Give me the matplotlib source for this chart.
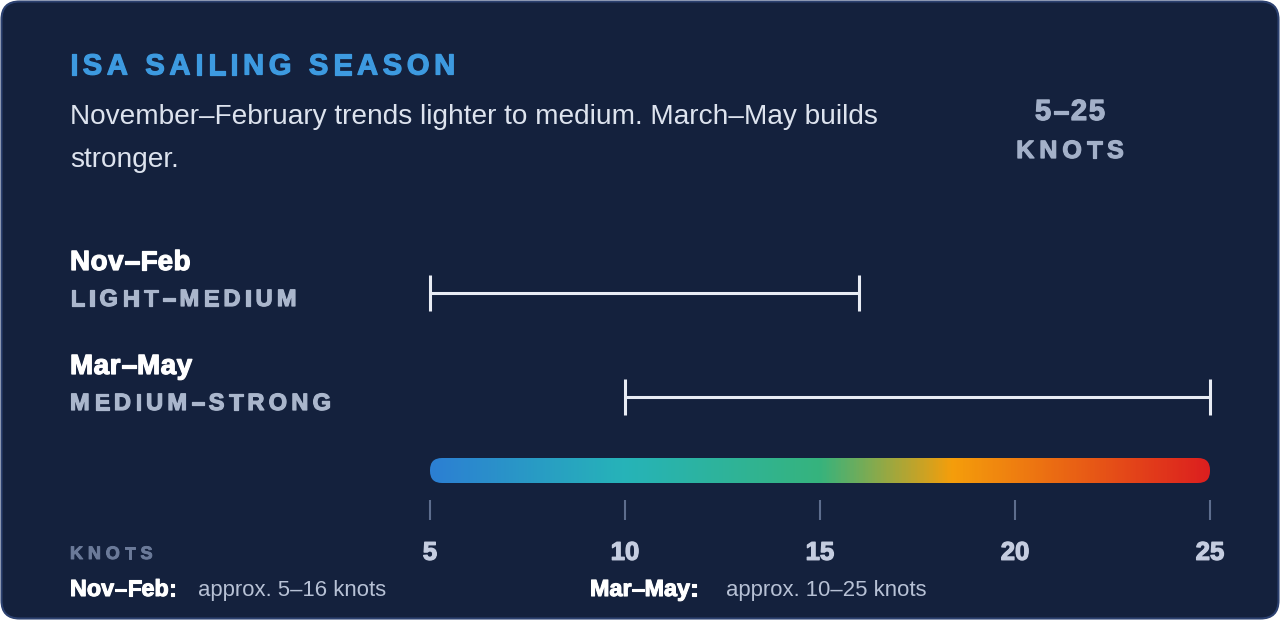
import numpy as np
import matplotlib
matplotlib.use("Agg")
import matplotlib.pyplot as plt
import matplotlib.patheffects as pe
from matplotlib.patches import FancyBboxPatch
from matplotlib.colors import LinearSegmentedColormap
from matplotlib.font_manager import FontProperties, findfont, get_font

try:
    from matplotlib.ft2font import LoadFlags
    NOHINT = LoadFlags.NO_HINTING
except ImportError:
    from matplotlib.ft2font import LOAD_NO_HINTING as NOHINT

# data
seasons = ["Nov–Feb", "Mar–May"]
levels = ["LIGHT–MEDIUM", "MEDIUM–STRONG"]
low = [5, 10]
high = [16, 25]
ticks = [5, 10, 15, 20, 25]
grad_pos = [0.0, 0.25, 0.5, 0.67, 1.0]
grad_col = ["#2c7fd3", "#26b4b8", "#36b37d", "#f59e0b", "#dc1f1f"]

W, H, DPI = 1280, 620, 100
BG = "#14213d"
FONT = "Liberation Sans"

plt.rcParams["font.family"] = [FONT, "DejaVu Sans"]

fig = plt.figure(figsize=(W / DPI, H / DPI), dpi=DPI, facecolor="white")

# card background
bg = fig.add_axes([0, 0, 1, 1])
bg.set_xlim(0, W)
bg.set_ylim(H, 0)
bg.axis("off")
bg.add_patch(FancyBboxPatch((1.5, 1.5), W - 3, H - 3,
                            boxstyle="round,pad=0,rounding_size=18",
                            facecolor=BG, edgecolor="#2c4170", linewidth=1.5))


def fxy(x, y):
    return x / W, 1 - y / H


def heavy(color, lw=0.9):
    # the reference bold is a bit heavier than Liberation Sans Bold
    return [pe.withStroke(linewidth=lw, foreground=color)]


def advances(s, size, weight):
    fp = FontProperties(family=FONT, weight=weight, size=size)
    font = get_font(findfont(fp))
    font.set_size(size, DPI)
    return [font.load_char(ord(c), flags=NOHINT).linearHoriAdvance / 65536 for c in s]


def spaced(x, y, s, size, color, weight="bold", track=0.0, ha="left", lw=0.9):
    adv = advances(s, size, weight)
    gap = track * size * DPI / 72
    total = sum(adv) + gap * (len(s) - 1)
    if ha == "center":
        x = x - total / 2
    elif ha == "right":
        x = x - total
    for c, a in zip(s, adv):
        fig.text(*fxy(x, y), c, fontsize=size, color=color, fontweight=weight,
                 ha="left", va="baseline", path_effects=heavy(color, lw))
        x += a + gap


# header
spaced(70, 74.5, "ISA SAILING SEASON", 21, "#3d9ae0", track=0.16)
fig.text(*fxy(70, 124.5), "November–February trends lighter to medium. March–May builds",
         fontsize=20.2, color="#dde3ee", va="baseline")
fig.text(*fxy(70, 167), "stronger.", fontsize=20.2, color="#dde3ee", va="baseline")
spaced(1070, 120, f"{ticks[0]}–{ticks[-1]}", 21, "#a3b0c8", track=0.06, ha="center")
spaced(1070, 158, "KNOTS", 18, "#a3b0c8", track=0.2, ha="center")

# row labels
row_y = [270, 374]
for i in range(len(seasons)):
    spaced(70, row_y[i], seasons[i], 20, "white", track=0.02)
    spaced(70, row_y[i] + 36, levels[i], 17, "#aab6cc", track=0.18)

# range axes: x in knots, y in row index (104 px per row)
top_px, bot_px, row0_px, row_px = 250, 520, 293, 104
ax = fig.add_axes([430 / W, (H - bot_px) / H, 780 / W, (bot_px - top_px) / H])
ax.set_facecolor("none")
ax.set_xlim(ticks[0], ticks[-1])
ax.set_ylim((bot_px - row0_px) / row_px, (top_px - row0_px) / row_px)
for s in ax.spines.values():
    s.set_visible(False)
ax.set_yticks([])

rows = np.arange(len(seasons))
cap = 18 / row_px
ax.hlines(rows, low, high, color="#e8ecf4", linewidth=2.2, clip_on=False)
ax.vlines(low, rows - cap, rows + cap, color="#e8ecf4", linewidth=2.2, clip_on=False)
ax.vlines(high, rows - cap, rows + cap, color="#e8ecf4", linewidth=2.2, clip_on=False)

# gradient scale bar
cmap = LinearSegmentedColormap.from_list("wind", list(zip(grad_pos, grad_col)))
yc = (470.5 - row0_px) / row_px
hh = 12.5 / row_px
knots = np.linspace(ticks[0], ticks[-1], 600)
im = ax.imshow(knots[None, :], cmap=cmap, aspect="auto",
               extent=(ticks[0], ticks[-1], yc + hh, yc - hh), interpolation="bilinear")
clip = FancyBboxPatch((ticks[0], yc - hh), ticks[-1] - ticks[0], 2 * hh,
                      boxstyle=f"round,pad=0,rounding_size={12 / 39}",
                      mutation_aspect=(1 / row_px) / (1 / 39),
                      facecolor="none", edgecolor="none", transform=ax.transData)
ax.add_patch(clip)
im.set_clip_path(clip)

ax.set_xticks(ticks)
ax.set_xticklabels([str(t) for t in ticks], fontsize=18.5, fontweight="bold", color="#c5cde0")
for lab in ax.get_xticklabels():
    lab.set_path_effects(heavy("#c5cde0"))
ax.tick_params(axis="x", direction="in", length=14.4, width=1.5, color="#5d6d8d", pad=15)

# footer
spaced(70, 559, "KNOTS", 13, "#6b7a99", track=0.27, lw=0.7)
foot_x = [(70, 198), (590, 726)]
for i in range(len(seasons)):
    spaced(foot_x[i][0], 596, seasons[i] + ":", 16.8, "white", track=0.0, lw=0.8)
    fig.text(*fxy(foot_x[i][1], 596), f"approx. {low[i]}–{high[i]} knots",
             fontsize=15.9, color="#b7c1d5", va="baseline")

fig.savefig("out.png", dpi=DPI, facecolor=fig.get_facecolor())
